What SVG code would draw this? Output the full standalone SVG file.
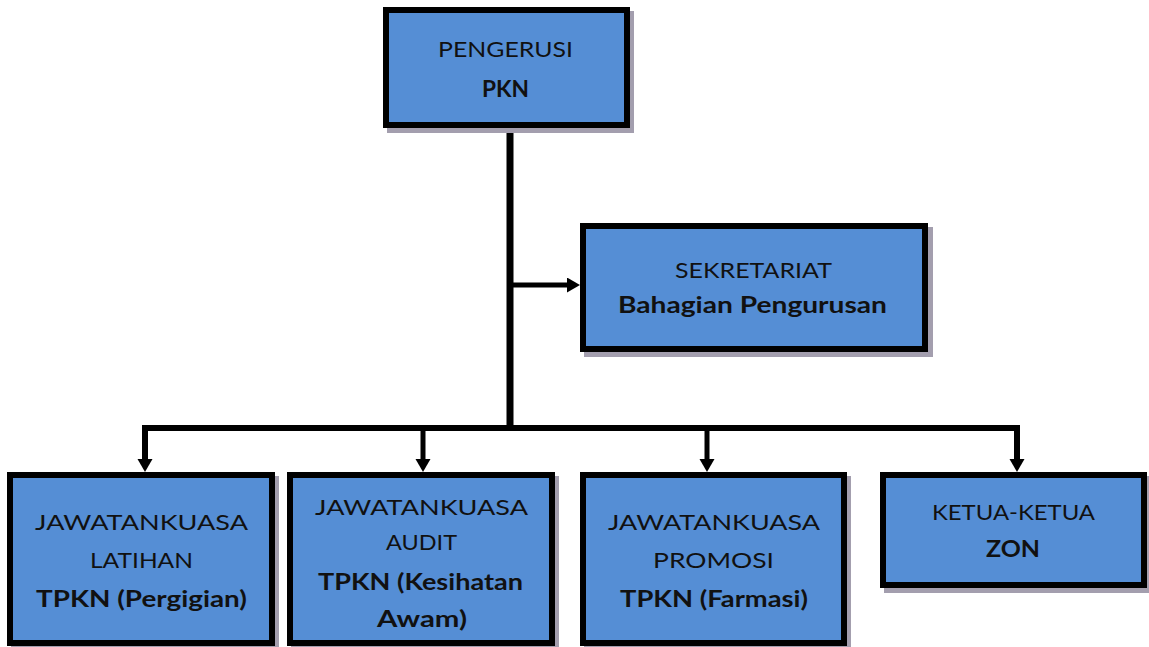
<svg xmlns="http://www.w3.org/2000/svg" width="1149" height="647" viewBox="0 0 1149 647">
<style>
.box{fill:#558ED5;stroke:#000;stroke-width:6}
.sh{fill:#a39eae}
.t{font-family:Lato,"Liberation Sans",sans-serif;fill:#111;text-anchor:middle;font-size:22px}
.b{font-weight:bold}
.c{stroke:#000;fill:none}
</style>
<defs>
<marker id="ah" markerUnits="userSpaceOnUse" markerWidth="14" markerHeight="16" refX="2" refY="7.5" orient="auto">
<path d="M0,0 L13,7.5 L0,15 z" fill="#000"/>
</marker>
</defs>
<g id="connectors">
<line class="c" x1="510" y1="126" x2="510" y2="431" stroke-width="7"/>
<line class="c" x1="507" y1="285" x2="569" y2="285" stroke-width="5" marker-end="url(#ah)"/>
<polyline class="c" points="145,461 145,428 1017,428 1017,461" stroke-width="6" marker-end="url(#ah)"/>
<line class="c" x1="145" y1="430" x2="145" y2="461" stroke-width="5" marker-end="url(#ah)"/>
<line class="c" x1="423" y1="430" x2="423" y2="461" stroke-width="5" marker-end="url(#ah)"/>
<line class="c" x1="707" y1="430" x2="707" y2="461" stroke-width="5" marker-end="url(#ah)"/>
</g>
<g id="pengerusi">
<rect class="sh" x="387" y="11" width="247" height="122"/>
<rect class="box" x="386" y="10" width="241" height="115"/>
<text class="t" x="505.5" y="57" textLength="135" lengthAdjust="spacingAndGlyphs">PENGERUSI</text>
<text class="t b" x="505.5" y="97" textLength="47" lengthAdjust="spacingAndGlyphs">PKN</text>
</g>
<g id="sekretariat">
<rect class="sh" x="584" y="227" width="349" height="130"/>
<rect class="box" x="583" y="226" width="342" height="123"/>
<text class="t" x="753.5" y="278" textLength="157" lengthAdjust="spacingAndGlyphs">SEKRETARIAT</text>
<text class="t b" x="752.5" y="313" textLength="269" lengthAdjust="spacingAndGlyphs">Bahagian Pengurusan</text>
</g>
<g id="latihan">
<rect class="sh" x="11" y="476" width="268" height="175"/>
<rect class="box" x="10" y="475" width="262" height="168"/>
<text class="t" x="141.5" y="530" font-size="23" textLength="213" lengthAdjust="spacingAndGlyphs">JAWATANKUASA</text>
<text class="t" x="141.5" y="568" font-size="23" textLength="103" lengthAdjust="spacingAndGlyphs">LATIHAN</text>
<text class="t b" x="141.5" y="607" font-size="23" textLength="211" lengthAdjust="spacingAndGlyphs">TPKN (Pergigian)</text>
</g>
<g id="audit">
<rect class="sh" x="291" y="476" width="268" height="175"/>
<rect class="box" x="290" y="475" width="262" height="168"/>
<text class="t" x="421.5" y="515" font-size="23" textLength="213" lengthAdjust="spacingAndGlyphs">JAWATANKUASA</text>
<text class="t" x="421.5" y="550" font-size="23" textLength="71" lengthAdjust="spacingAndGlyphs">AUDIT</text>
<text class="t b" x="420.5" y="590" font-size="23" textLength="205" lengthAdjust="spacingAndGlyphs">TPKN (Kesihatan</text>
<text class="t b" x="422" y="627" font-size="23" textLength="90" lengthAdjust="spacingAndGlyphs">Awam)</text>
</g>
<g id="promosi">
<rect class="sh" x="584" y="476" width="267" height="175"/>
<rect class="box" x="583" y="475" width="261" height="168"/>
<text class="t" x="714" y="530" font-size="23" textLength="212" lengthAdjust="spacingAndGlyphs">JAWATANKUASA</text>
<text class="t" x="713.5" y="568" font-size="23" textLength="121" lengthAdjust="spacingAndGlyphs">PROMOSI</text>
<text class="t b" x="714" y="607" font-size="23" textLength="188" lengthAdjust="spacingAndGlyphs">TPKN (Farmasi)</text>
</g>
<g id="zon">
<rect class="sh" x="884" y="476" width="267" height="117"/>
<rect class="box" x="883" y="475" width="261" height="110"/>
<text class="t" x="1013.5" y="520" font-size="23" textLength="163" lengthAdjust="spacingAndGlyphs">KETUA-KETUA</text>
<text class="t b" x="1013" y="557" font-size="23" textLength="54" lengthAdjust="spacingAndGlyphs">ZON</text>
</g>
</svg>
